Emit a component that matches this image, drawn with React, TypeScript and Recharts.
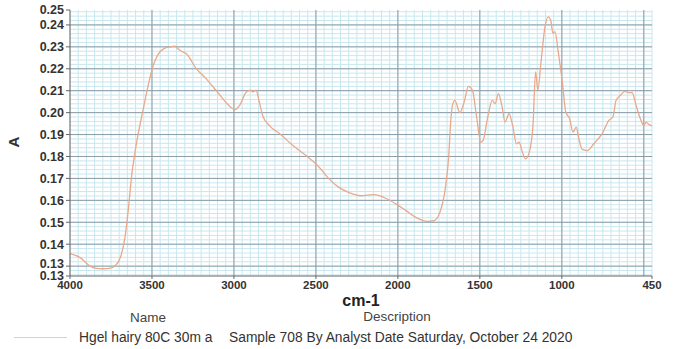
import { CartesianGrid, Line, LineChart, XAxis, YAxis } from 'recharts';

const wavenumbers = [
  4000, 3940, 3880, 3840, 3800, 3760, 3720, 3690, 3665, 3645, 3625, 3595, 3555, 3525, 3495, 3465, 3425, 3390,
  3360, 3340, 3320, 3290, 3230, 3170, 3110, 3050, 3020, 2995, 2965, 2925, 2900, 2885, 2865, 2845, 2825, 2785,
  2720, 2640, 2560, 2480, 2420, 2360, 2300, 2225, 2145, 2085, 2010, 1950, 1890, 1820, 1780, 1740, 1710, 1690,
  1678, 1667, 1652, 1622, 1596, 1570, 1545, 1521, 1494, 1480, 1454, 1424, 1407, 1387, 1366, 1346, 1322, 1298,
  1277, 1261, 1241, 1221, 1196, 1176, 1160, 1146, 1129, 1103, 1083, 1068, 1054, 1042, 1022, 997, 976, 952, 932,
  912, 896, 876, 845, 805, 754, 713, 689, 669, 642, 616, 592, 571, 547, 521, 500, 486, 469, 450,
];
const absorbance = [
  0.1357, 0.134, 0.1301, 0.129, 0.1288, 0.129, 0.1305, 0.1345, 0.143, 0.1553, 0.1705, 0.1858, 0.201, 0.2117,
  0.2209, 0.2262, 0.2293, 0.23, 0.2303, 0.229, 0.228, 0.2268, 0.2201, 0.2155, 0.2102, 0.2048, 0.2025, 0.2013,
  0.2033, 0.2094, 0.2102, 0.2095, 0.2102, 0.2048, 0.1987, 0.1942, 0.1904, 0.185, 0.1804, 0.1751, 0.1698, 0.1659,
  0.1636, 0.1621, 0.1626, 0.1613, 0.1583, 0.1553, 0.1522, 0.1504, 0.1507, 0.1553, 0.1659, 0.18, 0.1957, 0.2033,
  0.2056, 0.2, 0.2048, 0.212, 0.2102, 0.1987, 0.1865, 0.1873, 0.1972, 0.2056, 0.2041, 0.2087, 0.2033, 0.1957,
  0.1995, 0.1934, 0.1858, 0.1865, 0.182, 0.1789, 0.1827, 0.1942, 0.2186, 0.2102, 0.2216, 0.239, 0.2437, 0.2422,
  0.2361, 0.2369, 0.2277, 0.214, 0.2003, 0.1972, 0.1911, 0.1934, 0.1881, 0.1832, 0.1827, 0.1858, 0.1904, 0.1965,
  0.198, 0.2056, 0.2079, 0.2097, 0.2091, 0.2091, 0.2033, 0.1972, 0.1942, 0.1957, 0.1946, 0.194,
];

const xTicks = [4000, 3500, 3000, 2500, 2000, 1500, 1000, 450];
const yTicks = [0.1255, 0.13, 0.14, 0.15, 0.16, 0.17, 0.18, 0.19, 0.2, 0.21, 0.22, 0.23, 0.24, 0.2468];
const xMajor = [3500, 3000, 2500, 2000, 1500, 1000, 500];
const yMajor = [0.13, 0.14, 0.15, 0.16, 0.17, 0.18, 0.19, 0.2, 0.21, 0.22, 0.23, 0.24];

// chart-paper minor grid: every 50 cm-1 and every 0.002 A
const xMinor: number[] = [];
for (let w = 450; w <= 4000; w += 50) xMinor.push(w);
const yMinor: number[] = [];
for (let i = 0; i <= 60; i++) yMinor.push(+(0.126 + i * 0.002).toFixed(3));

const data = wavenumbers.map((wn, i) => ({ wn, a: absorbance[i] }));

const font = '"Liberation Sans", Arial, sans-serif';
const tickStyle = { fontSize: 11.5, fontWeight: 700, fill: '#333', fontFamily: font };

// the two "0.13" labels sit close together; nudge the inner one up a bit like the original
function YTick({ x, y, payload }: any) {
  const v = payload.value as number;
  const dy = v === 0.13 ? -3 : 0;
  return (
    <text x={x} y={y + dy} dy="0.355em" textAnchor="end" fontSize={12.5} fontWeight={700} fill="#333" fontFamily={font}>
      {v.toFixed(2)}
    </text>
  );
}

export default function App() {
  return (
    <div style={{ position: 'absolute', left: 0, top: 0, width: 678, height: 349, background: '#fff', fontFamily: font }}>
      <LineChart width={678} height={300} data={data} margin={{ top: 10, right: 26, left: 0, bottom: 0 }}>
        <CartesianGrid stroke="#c8e7ef" strokeWidth={1} verticalValues={xMinor} horizontalValues={yMinor} />
        <CartesianGrid stroke="#8d9ba4" strokeWidth={1} verticalValues={xMajor} horizontalValues={yMajor} />
        <XAxis
          dataKey="wn"
          type="number"
          domain={[450, 4000]}
          reversed
          ticks={xTicks}
          interval={0}
          height={24}
          tick={tickStyle}
          tickSize={3}
          tickMargin={2}
          stroke="#666"
        />
        <YAxis
          type="number"
          domain={[0.1255, 0.2468]}
          ticks={yTicks}
          interval={0}
          width={70}
          tick={<YTick />}
          tickSize={4}
          tickMargin={2}
          stroke="#666"
        />
        <Line
          type="monotone"
          dataKey="a"
          stroke="#e9a98a"
          strokeWidth={1.3}
          dot={false}
          isAnimationActive={false}
        />
      </LineChart>
      <div style={{ position: 'absolute', left: 13, top: 142, transform: 'translate(-50%,-50%) rotate(-90deg)', fontSize: 15, fontWeight: 700, color: '#333' }}>A</div>
      <div style={{ position: 'absolute', left: 361, top: 301, transform: 'translate(-50%,-50%)', fontSize: 16, fontWeight: 700, color: '#222' }}>cm-1</div>
      <div style={{ position: 'absolute', left: 148, top: 317, transform: 'translate(-50%,-50%)', fontSize: 13.5, color: '#444' }}>Name</div>
      <div style={{ position: 'absolute', left: 397, top: 316, transform: 'translate(-50%,-50%)', fontSize: 13.5, color: '#444' }}>Description</div>
      <div style={{ position: 'absolute', left: 14, top: 337, width: 53, height: 0, borderTop: '1.5px solid #f0c9b4' }} />
      <div style={{ position: 'absolute', left: 79, top: 337, transform: 'translateY(-50%)', fontSize: 13.8, color: '#333', whiteSpace: 'nowrap' }}>Hgel hairy 80C 30m a</div>
      <div style={{ position: 'absolute', left: 229, top: 337, transform: 'translateY(-50%)', fontSize: 13.8, color: '#333', whiteSpace: 'nowrap' }}>Sample 708 By Analyst Date Saturday, October 24 2020</div>
    </div>
  );
}
